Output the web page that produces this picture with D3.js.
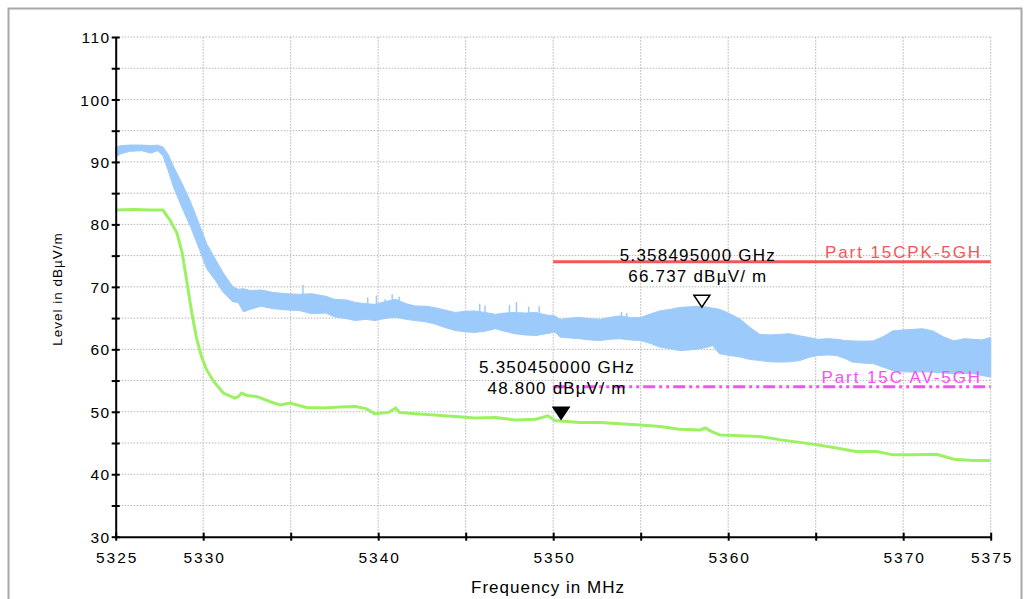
<!DOCTYPE html>
<html>
<head>
<meta charset="utf-8">
<script src="https://cdn.jsdelivr.net/npm/d3@7"></script>
<style>
  body { margin: 0; background: #fff; }
  svg text { font-family: "Liberation Sans", Arial, sans-serif; }
</style>
</head>
<body>
<svg id="chart" width="1032" height="599"></svg>
<script>
// peak trace (blue band): frequency in MHz, upper / lower envelope in dBuV/m
const blueFreq  = [5325, 5325.3, 5325.8, 5326.5, 5327, 5327.4, 5327.7, 5328, 5328.3, 5328.8, 5329.25, 5329.7, 5330.2, 5330.7, 5331.15, 5331.7, 5332, 5332.3, 5332.7, 5333.3, 5334, 5334.8, 5335.5, 5336.2, 5337, 5337.5, 5338.2, 5338.7, 5339.3, 5339.8, 5340.5, 5341, 5341.6, 5342.1, 5342.7, 5343.2, 5343.8, 5344.4, 5345, 5345.5, 5346.1, 5346.7, 5347.2, 5347.8, 5348.4, 5349, 5349.6, 5350.1, 5350.4, 5351, 5351.5, 5352.1, 5352.7, 5353.2, 5353.8, 5354.4, 5355, 5355.6, 5356.1, 5356.7, 5357.2, 5357.8, 5358.4, 5358.9, 5359.1, 5359.5, 5360.1, 5360.7, 5361.2, 5361.8, 5362.4, 5363, 5363.5, 5364.1, 5364.6, 5365.1, 5365.7, 5366.2, 5366.7, 5367.1, 5367.7, 5368.3, 5368.9, 5369.4, 5370, 5370.6, 5371.1, 5371.7, 5372.3, 5372.9, 5373.5, 5374, 5374.5, 5375];
const blueUpper = [92.4, 92.6, 92.7, 92.7, 92.6, 92.7, 92.4, 91.2, 89.3, 86.5, 83.8, 80.6, 76.9, 74.4, 72.2, 70.0, 69.6, 69.7, 69.4, 69.5, 69.1, 68.9, 68.8, 68.9, 68.5, 68.0, 67.9, 67.5, 67.3, 67.2, 67.7, 68.0, 67.3, 66.95, 66.9, 66.7, 66.3, 65.9, 66.1, 66.15, 65.9, 65.6, 65.8, 65.9, 65.8, 65.9, 65.5, 65.35, 64.8, 65.0, 65.1, 64.9, 64.8, 65.1, 65.35, 65.1, 65.1, 65.7, 66.15, 66.4, 66.7, 66.8, 66.9, 66.7, 66.6, 66.4, 65.7, 64.8, 63.6, 62.4, 62.3, 62.4, 62.5, 62.15, 61.9, 61.6, 61.7, 61.6, 61.4, 61.35, 61.3, 61.35, 62.1, 62.95, 63.1, 63.2, 63.3, 62.95, 62.0, 61.35, 61.7, 61.6, 61.5, 61.9];
const blueLower = [90.8, 91.3, 91.7, 91.8, 91.4, 91.8, 91.0, 88.6, 86.0, 82.6, 79.8, 76.6, 72.9, 71.0, 69.1, 67.6, 67.5, 66.0, 66.4, 66.9, 66.5, 66.3, 66.2, 65.7, 65.8, 65.2, 64.9, 64.6, 64.8, 64.6, 65.0, 65.15, 64.8, 64.6, 64.4, 64.1, 63.5, 63.0, 62.8, 62.7, 62.9, 63.3, 62.9, 62.5, 62.3, 62.2, 62.5, 62.75, 61.95, 61.8, 61.7, 61.5, 61.4, 61.6, 61.7, 61.5, 61.4, 60.9, 60.35, 60.1, 59.8, 59.9, 60.1, 60.4, 60.6, 59.3, 59.0, 58.75, 58.4, 58.2, 58.0, 57.95, 58.0, 58.2, 58.7, 59.0, 59.1, 59.0, 58.5, 57.95, 57.8, 57.7, 57.1, 56.6, 56.4, 56.35, 56.4, 56.35, 56.2, 56.1, 56.1, 56.1, 55.8, 55.55];

// narrow spikes on top of the peak trace
const spikeFreq = [5335.7, 5339.4, 5339.9, 5340.4, 5340.8, 5341.2, 5345.8, 5346.1, 5347.5, 5347.9, 5348.6, 5349.2, 5353.9, 5354.2];
const spikeTop  = [70.3, 68.3, 68.6, 68.0, 68.8, 68.4, 67.3, 67.0, 67.1, 67.6, 66.8, 66.9, 66.0, 65.8];

// average trace (green)
const greenFreq = [5325, 5326, 5327, 5327.7, 5328.1, 5328.5, 5328.8, 5329.05, 5329.35, 5329.6, 5329.9, 5330.2, 5330.6, 5331.15, 5331.8, 5332, 5332.2, 5332.5, 5333.05, 5333.8, 5334.4, 5334.95, 5335.9, 5336.9, 5337.8, 5338.7, 5339.3, 5339.8, 5340.6, 5341, 5341.2, 5342.1, 5343.2, 5344.4, 5345.5, 5346.7, 5347.8, 5349, 5349.7, 5350.1, 5351.5, 5352.7, 5353.8, 5355, 5356.1, 5357.2, 5358.4, 5358.7, 5359, 5359.5, 5360.7, 5361.8, 5363, 5364.1, 5365.1, 5366.2, 5367.3, 5368.5, 5369.4, 5370.6, 5371.9, 5372.9, 5374, 5375];
const greenVal  = [82.3, 82.4, 82.3, 82.3, 80.7, 78.6, 75.4, 71.1, 65.8, 62.05, 58.85, 56.7, 54.85, 53.0, 52.2, 52.4, 53.0, 52.6, 52.45, 51.65, 51.1, 51.4, 50.7, 50.6, 50.75, 50.85, 50.5, 49.7, 49.9, 50.6, 49.9, 49.7, 49.5, 49.25, 49.0, 49.1, 48.7, 48.8, 49.35, 48.6, 48.3, 48.3, 48.1, 47.9, 47.65, 47.2, 47.1, 47.4, 46.9, 46.3, 46.15, 46.05, 45.5, 45.1, 44.7, 44.2, 43.65, 43.65, 43.1, 43.1, 43.2, 42.4, 42.2, 42.2];

// limit lines
const limitNames = ["Part 15CPK-5GH", "Part 15C AV-5GH"];
const limitVals  = [74, 54];
const limitFrom  = 5350, limitTo = 5375;

// markers
const markerFreq  = [5358.495, 5350.45];
const markerVal   = [66.737, 48.8];
const markerLine1 = ["5.358495000 GHz", "5.350450000 GHz"];
const markerLine2 = ["66.737 dBµV/ m", "48.800 dBµV/ m"];

// axes
const xTicks = d3.range(5325, 5376, 5);
const xLabels = [5325, 5330, 5340, 5350, 5360, 5370, 5375];
const yTicks = d3.range(30, 111, 5);
const yLabels = [30, 40, 50, 60, 70, 80, 90, 100, 110];

const svg = d3.select("#chart");
const x = d3.scaleLinear().domain([5325, 5375]).range([115.7, 990.7]);
const y = d3.scaleLinear().domain([30, 110]).range([536.7, 37]);

// outer frame
svg.append("rect")
    .attr("x", 8.5).attr("y", 8.5).attr("width", 1013).attr("height", 610)
    .attr("fill", "none").attr("stroke", "#a8a8a8").attr("stroke-width", 2);

// dotted grid
svg.append("g").selectAll("line").data(yTicks.slice(1)).enter().append("line")
    .attr("x1", x(5325)).attr("x2", x(5375))
    .attr("y1", d => y(d)).attr("y2", d => y(d))
    .attr("stroke", "#b4b4b4").attr("stroke-dasharray", "1.5,1.5");
svg.append("g").selectAll("line").data(xTicks.slice(1)).enter().append("line")
    .attr("x1", d => x(d)).attr("x2", d => x(d))
    .attr("y1", y(30)).attr("y2", y(110))
    .attr("stroke", "#b4b4b4").attr("stroke-dasharray", "1.5,1.5");

// peak trace
const blue = blueFreq.map((f, i) => ({f: f, hi: blueUpper[i], lo: blueLower[i]}));
svg.append("path")
    .datum(blue)
    .attr("fill", "#9ccbfb")
    .attr("stroke", "#9ccbfb").attr("stroke-width", 1)
    .attr("d", d3.area().x(d => x(d.f)).y0(d => y(d.lo)).y1(d => y(d.hi)));
svg.append("g").selectAll("line").data(spikeFreq).enter().append("line")
    .attr("x1", d => x(d)).attr("x2", d => x(d))
    .attr("y1", (d, i) => y(spikeTop[i])).attr("y2", (d, i) => y(spikeTop[i] - 2.5))
    .attr("stroke", "#9ccbfb").attr("stroke-width", 1.5);

// average trace
svg.append("path")
    .datum(greenFreq.map((f, i) => [f, greenVal[i]]))
    .attr("fill", "none").attr("stroke", "#9cf163").attr("stroke-width", 3)
    .attr("d", d3.line().x(d => x(d[0])).y(d => y(d[1])));

// limit lines
const limitColors = ["#f25757", "#f64ff6"];
limitVals.forEach((v, i) => {
    svg.append("line")
        .attr("x1", x(limitFrom)).attr("x2", x(limitTo))
        .attr("y1", y(v)).attr("y2", y(v))
        .attr("stroke", limitColors[i]).attr("stroke-width", 3)
        .attr("stroke-dasharray", i === 1 ? "12,4,3,4,3,4" : null);
    svg.append("text")
        .attr("x", 982).attr("y", y(v) - 4)
        .attr("text-anchor", "end")
        .attr("font-size", 17).attr("letter-spacing", 1.9)
        .attr("fill", limitColors[i])
        .text(limitNames[i]);
});

// markers
markerFreq.forEach((f, i) => {
    const px = x(f), py = y(markerVal[i]);
    svg.append("path")
        .attr("d", `M${px - 8},${py - 12}L${px + 8},${py - 12}L${px},${py}Z`)
        .attr("fill", i === 0 ? "#fff" : "#000")
        .attr("stroke", "#000").attr("stroke-width", 1.5);
    svg.append("text")
        .attr("x", px - 4).attr("y", py - 46)
        .attr("text-anchor", "middle").attr("font-size", 17).attr("letter-spacing", 1.2)
        .text(markerLine1[i]);
    svg.append("text")
        .attr("x", px - 4).attr("y", py - 25.5)
        .attr("text-anchor", "middle").attr("font-size", 17).attr("letter-spacing", 1.2)
        .text(markerLine2[i]);
});

// x axis
const xAxis = svg.append("g")
    .attr("transform", `translate(0,${y(30)})`)
    .call(d3.axisBottom(x).tickValues(xTicks).tickSize(4).tickSizeOuter(0)
        .tickFormat(d => xLabels.includes(d) ? d : ""));
xAxis.select(".domain").attr("stroke-width", 2);
xAxis.selectAll(".tick line").attr("y1", -4).attr("y2", 4).attr("stroke-width", 2);
xAxis.selectAll(".tick text")
    .attr("y", 26.5).attr("dy", 0).attr("dx", 1)
    .attr("font-size", 15.5).attr("letter-spacing", 2).attr("fill", "#000");

// y axis
const yAxis = svg.append("g")
    .attr("transform", `translate(${x(5325)},0)`)
    .call(d3.axisLeft(y).tickValues(yTicks).tickSize(4).tickSizeOuter(0)
        .tickFormat(d => yLabels.includes(d) ? d : ""));
yAxis.select(".domain").attr("stroke-width", 2);
yAxis.selectAll(".tick line").attr("x1", -4).attr("x2", 4).attr("stroke-width", 2);
yAxis.selectAll(".tick text")
    .attr("x", -5).attr("dy", "0.36em")
    .attr("font-size", 15.5).attr("letter-spacing", 1.5).attr("fill", "#000");

// axis titles
svg.append("text")
    .attr("x", 548).attr("y", 593)
    .attr("text-anchor", "middle").attr("font-size", 17).attr("letter-spacing", 1)
    .text("Frequency in MHz");
svg.append("text")
    .attr("transform", "translate(62,289) rotate(-90)")
    .attr("text-anchor", "middle").attr("font-size", 13.5).attr("letter-spacing", 1)
    .text("Level in dBµV/m");
</script>
</body>
</html>
